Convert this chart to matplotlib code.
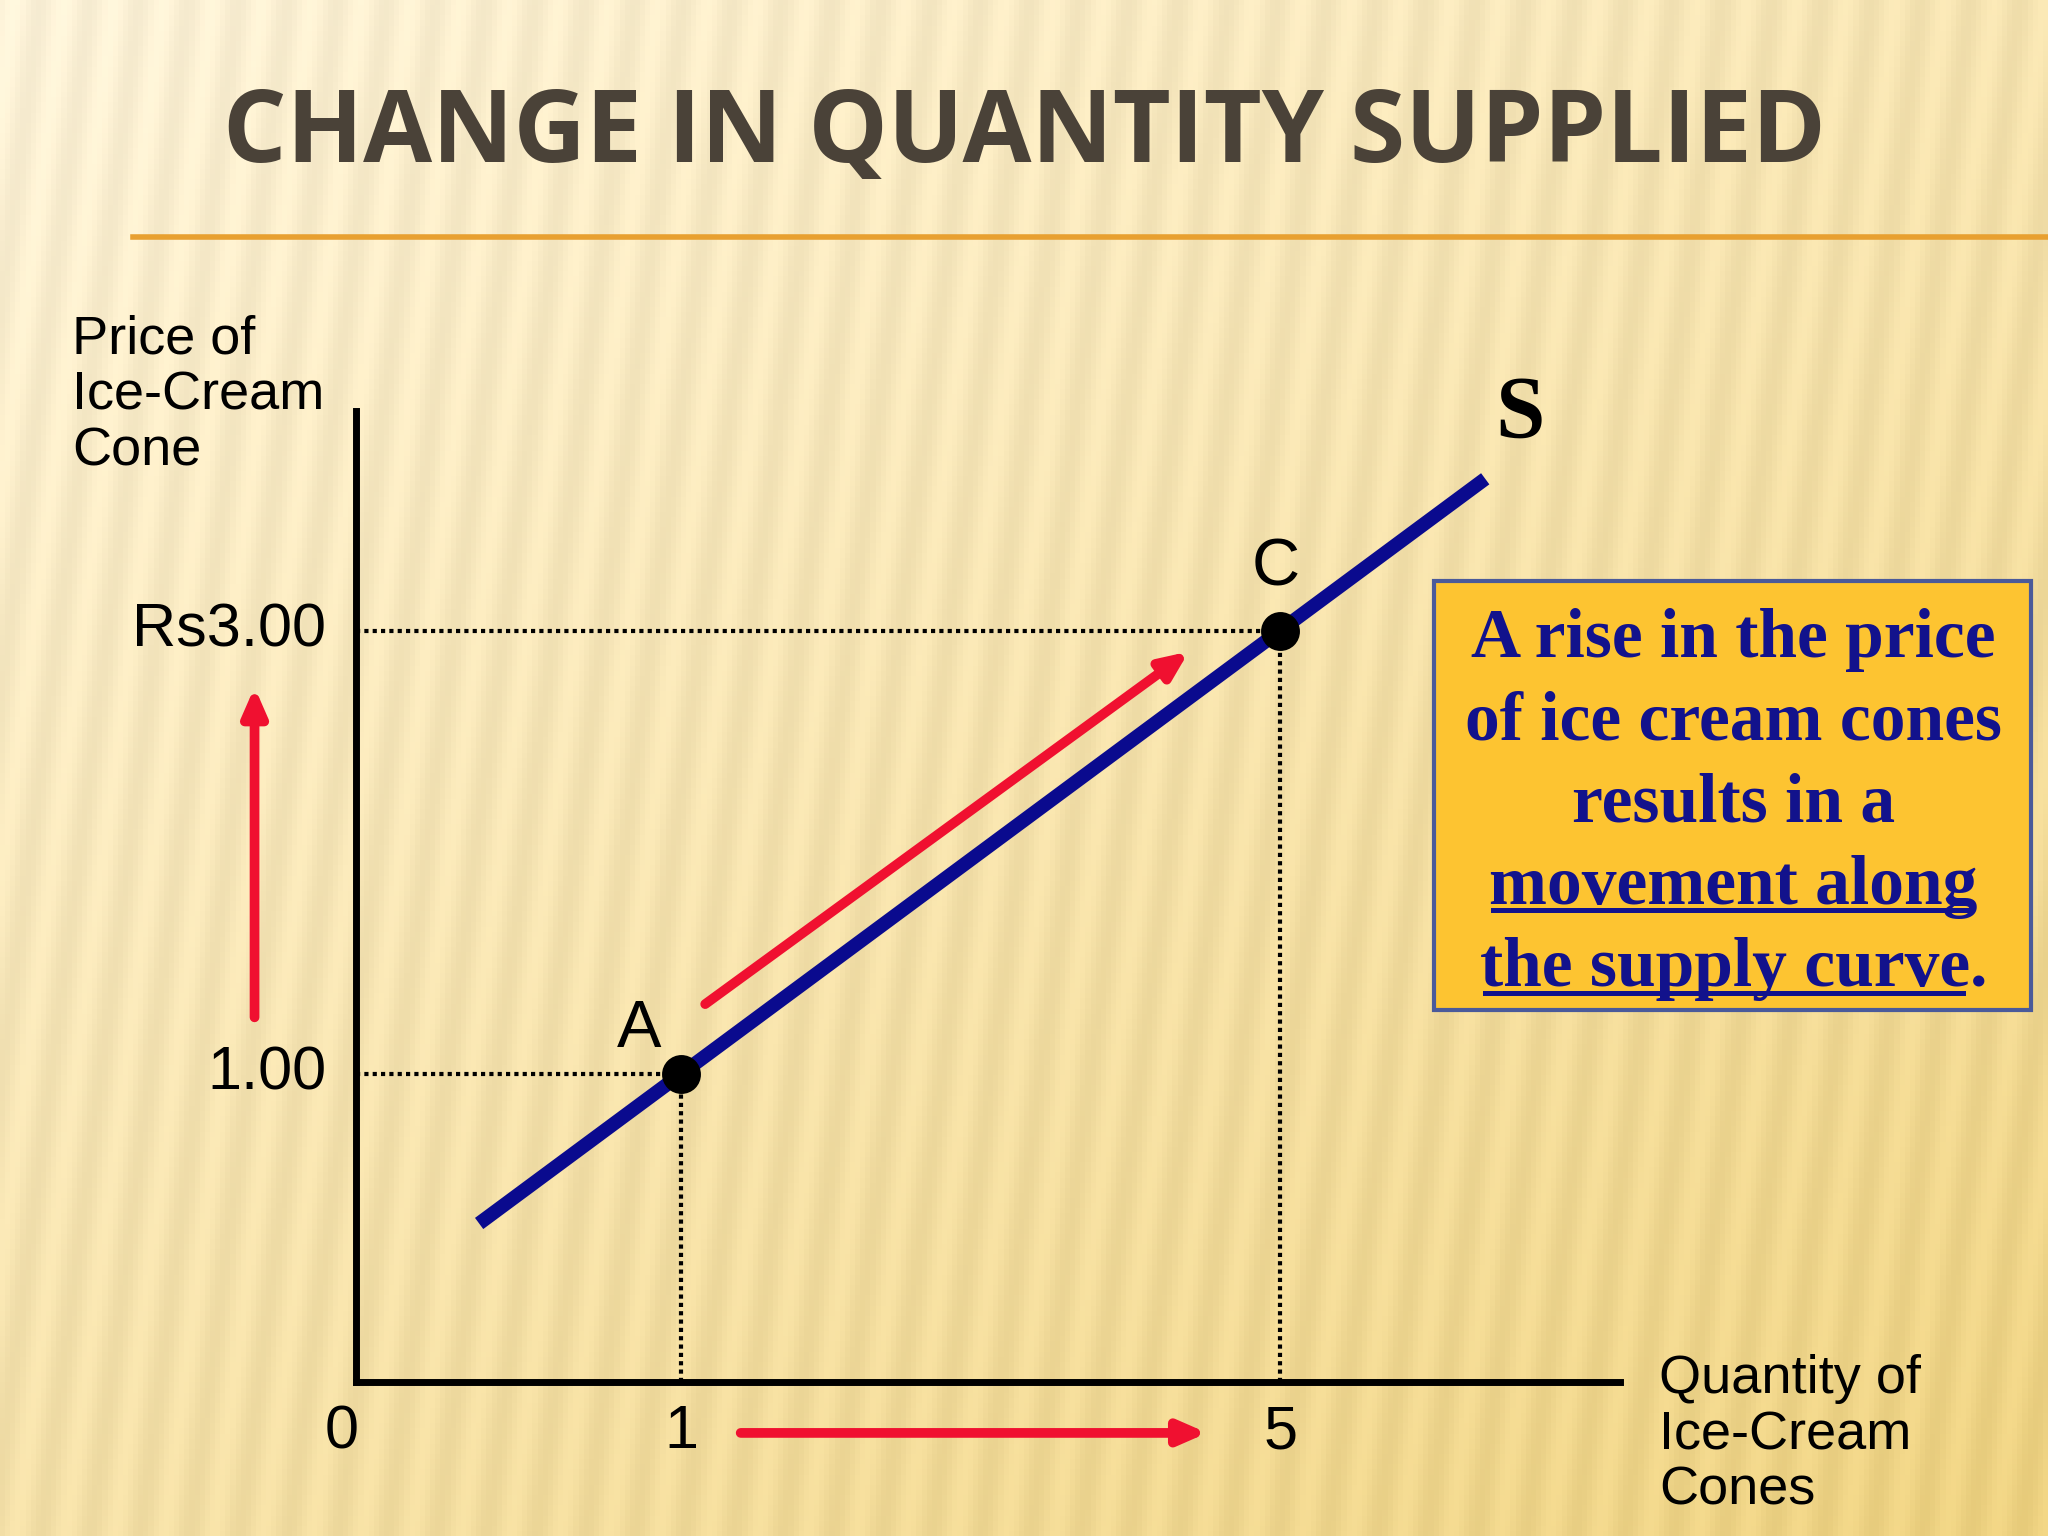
import matplotlib.pyplot as plt
import numpy as np

# data
quantities = [1, 5]
prices = [1.00, 3.00]
point_labels = ['A', 'C']
price_labels = ['1.00', 'Rs3.00']
supply_x = [-0.35, 6.37]
supply_y = [0.5 * x + 0.5 for x in supply_x]

fig = plt.figure(figsize=(10.24, 7.68), dpi=200)

# background: warm gradient with faint vertical streaks
bg = fig.add_axes([0, 0, 1, 1])
h, w = 300, 400
yy, xx = np.mgrid[0:h, 0:w] / np.array([h, w])[:, None, None]
top = np.array([0.99, 0.95, 0.85])
bot = np.array([0.93, 0.82, 0.50])
t = (0.55 * yy + 0.45 * xx)[..., None]
img = top * (1 - t) + bot * t
streak = 0.025 * np.sin(xx * 260 + yy * 25)[..., None]
img = np.clip(img + streak, 0, 1)
bg.imshow(img, aspect='auto', extent=[0, 1, 0, 1])
bg.set_xlim(0, 1)
bg.set_ylim(0, 1)
bg.axis('off')

fig.text(0.50, 0.912, 'CHANGE IN QUANTITY SUPPLIED', ha='center', va='center',
         fontsize=36, fontweight='bold', color='#4a4238', family='Open Sans')
bg.plot([0.065, 1.0], [0.846, 0.846], color='#e8a030', lw=2)

ax = fig.add_axes([0.174, 0.1003, 0.617, 0.632])
ax.patch.set_alpha(0)
ax.set_xlim(-1.17, 7.27)
ax.set_ylim(-0.39, 3.99)
for s in ['top', 'right']:
    ax.spines[s].set_visible(False)
for s in ['left', 'bottom']:
    ax.spines[s].set_linewidth(2.5)
ax.set_xticks([])
ax.set_yticks([])

lab = dict(family='Liberation Sans', color='black')
ax.plot(supply_x, supply_y, color='#0a0a8e', lw=5, solid_capstyle='butt')
for q, p, pl, name in zip(quantities, prices, price_labels, point_labels):
    ax.plot([-1.17, q], [p, p], ls=(0, (1, 1)), color='black', lw=1.5)
    ax.plot([q, q], [-0.39, p], ls=(0, (1, 1)), color='black', lw=1.5)
    ax.text(-1.37, p, pl, ha='right', va='center', fontsize=22, **lab)
    ax.text(q, -0.62, str(q), ha='center', va='center', fontsize=22, **lab)
ax.plot(quantities, prices, 'o', color='black', ms=13, zorder=5)
ax.text(0.72, 1.20, 'A', ha='center', va='center', fontsize=24, **lab)
ax.text(4.97, 3.28, 'C', ha='center', va='center', fontsize=24, **lab)
ax.text(-1.27, -0.62, '0', ha='center', va='center', fontsize=22, **lab)
ax.text(6.6, 3.97, 'S', ha='center', va='center', fontsize=32, fontweight='bold',
        family='Liberation Serif')

ax.text(-3.07, 4.06, 'Price of\nIce-Cream\nCone', ha='left', va='center',
        fontsize=19.5, linespacing=1.15, **lab)
ax.text(7.53, -0.63, 'Quantity of\nIce-Cream\nCones', ha='left', va='center',
        fontsize=19.5, linespacing=1.15, **lab)

arrow = dict(arrowstyle='-|>,head_length=0.8,head_width=0.35', color='#f01030', lw=3.5)
ax.annotate('', xy=(-1.85, 2.77), xytext=(-1.85, 1.23), arrowprops=arrow, annotation_clip=False)
ax.annotate('', xy=(4.55, -0.62), xytext=(1.36, -0.62), arrowprops=arrow, annotation_clip=False)
ax.annotate('', xy=(4.42, 2.92), xytext=(1.13, 1.30), arrowprops=arrow, annotation_clip=False)

# callout box
bg.add_patch(plt.Rectangle((1098 / 1568, 1 - 773 / 1176), 457 / 1568, 328 / 1176,
                           facecolor='#fdc431', edgecolor='#4a5a9a', lw=1.5))
box_lines = ['A rise in the price', 'of ice cream cones', 'results in a',
             'movement along', 'the supply curve.']
cx = 1327 / 1568
for i, line in enumerate(box_lines):
    y = 1 - (490 + i * 63) / 1176
    fig.text(cx, y, line, ha='center', va='center', fontsize=25, fontweight='bold',
             color='#12128c', family='Liberation Serif')
for y0, x0, x1 in [(1 - 697 / 1176, 1143, 1510), (1 - 760 / 1176, 1137, 1503)]:
    bg.plot([x0 / 1568, x1 / 1568], [y0, y0], color='#12128c', lw=1.8)

fig.savefig('out.png', dpi=200)
